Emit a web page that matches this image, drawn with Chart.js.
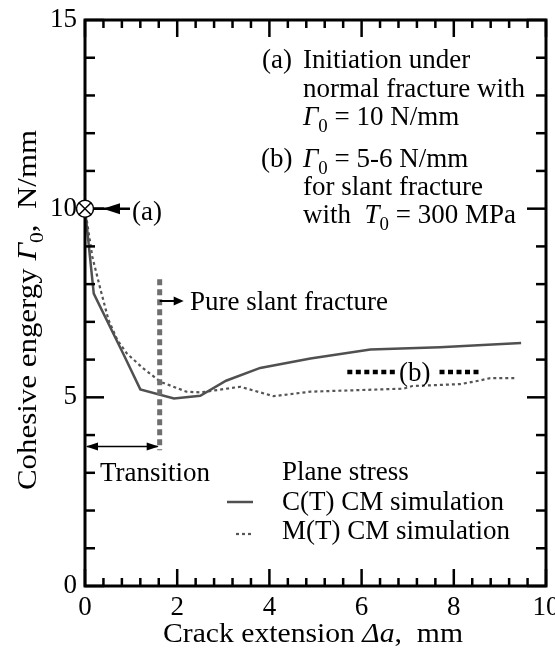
<!DOCTYPE html>
<html>
<head>
<meta charset="utf-8">
<script src="https://cdn.jsdelivr.net/npm/chart.js@4.4.1/dist/chart.umd.min.js"></script>
<style>
  body { margin: 0; background: #fff; }
</style>
</head>
<body>
<canvas id="myChart" width="555" height="654"></canvas>
<script>
// crack extension (mm) / cohesive energy (N/mm)
const ctX = [0, 0.19, 0.84, 1.2, 1.93, 2.5, 3.06, 3.8, 4.89, 6.19, 7.7, 9.46];
const ctY = [10, 7.75, 6.13, 5.21, 4.97, 5.04, 5.44, 5.78, 6.03, 6.27, 6.33, 6.44];
const mtX = [0, 0.16, 0.34, 0.51, 0.7, 0.91, 1.25, 1.64, 2.2, 2.5, 3.37, 4.09, 4.89, 6.91, 7.1, 8.14, 8.58, 8.79, 9.37];
const mtY = [10, 8.72, 7.84, 7.05, 6.52, 6.16, 5.78, 5.41, 5.15, 5.13, 5.28, 5.03, 5.15, 5.23, 5.3, 5.35, 5.45, 5.51, 5.51];
const xTicks = [0, 2, 4, 6, 8, 10];
const yTicks = [0, 5, 10, 15];

// annotation values (data units)
const initPoint = [0, 10];
const slantX = 1.62;
const slantRange = [3.6, 8.13];
const transitionY = 3.7;
const bLevel = 5.67;
const bDashes = [[5.69, 6.73], [7.69, 8.61]];

const serif = '"Liberation Serif", "Times New Roman", serif';

function toParts(p) { return typeof p === "string" ? [{ t: p }] : p; }
function measure(ctx, parts, size) {
  let w = 0;
  for (const p of toParts(parts)) {
    ctx.font = (p.it ? "italic " : "") + (p.sub ? size * 0.7 : size) + "px " + serif;
    w += ctx.measureText(p.t).width;
  }
  return w;
}
function txt(ctx, parts, x, y, size, sx) {
  ctx.save();
  ctx.translate(x, y);
  ctx.scale(sx || 1, 1);
  ctx.fillStyle = "#000";
  ctx.textBaseline = "alphabetic";
  ctx.textAlign = "left";
  let cx = 0;
  for (const p of toParts(parts)) {
    ctx.font = (p.it ? "italic " : "") + (p.sub ? size * 0.7 : size) + "px " + serif;
    ctx.fillText(p.t, cx, p.sub ? size * 0.25 : 0);
    cx += ctx.measureText(p.t).width;
  }
  ctx.restore();
}
function line(ctx, x1, y1, x2, y2) {
  ctx.beginPath(); ctx.moveTo(x1, y1); ctx.lineTo(x2, y2); ctx.stroke();
}
function head(ctx, x, y, dir, len, half) {
  ctx.beginPath();
  ctx.moveTo(x, y);
  ctx.lineTo(x - dir * len, y - half);
  ctx.lineTo(x - dir * len, y + half);
  ctx.closePath();
  ctx.fill();
}

const decor = {
  id: "decor",
  afterDatasetsDraw(chart) {
    const ctx = chart.ctx, a = chart.chartArea;
    const xs = chart.scales.x, ys = chart.scales.y;
    ctx.save();
    ctx.strokeStyle = "#000";
    ctx.fillStyle = "#000";
    ctx.setLineDash([]);

    // inside ticks on all sides
    ctx.lineWidth = 2.5;
    for (let i = 0; i <= 25; i++) {
      const px = xs.getPixelForValue(i * 0.4);
      const len = i % 5 === 0 ? 17 : 8;
      line(ctx, px, a.bottom, px, a.bottom - len);
      line(ctx, px, a.top, px, a.top + len);
    }
    for (let i = 0; i <= 15; i++) {
      const py = ys.getPixelForValue(i);
      const len = i % 5 === 0 ? 19 : 10;
      line(ctx, a.left, py, a.left + len, py);
      line(ctx, a.right, py, a.right - len, py);
    }
    ctx.lineWidth = 3;
    ctx.strokeRect(a.left, a.top, a.right - a.left, a.bottom - a.top);

    // pure slant boundary
    const sx = xs.getPixelForValue(slantX);
    ctx.strokeStyle = "#6e6e6e";
    ctx.lineWidth = 5;
    ctx.setLineDash([6, 4]);
    line(ctx, sx, ys.getPixelForValue(slantRange[1]), sx, ys.getPixelForValue(slantRange[0]));
    ctx.setLineDash([]);

    // transition arrow
    ctx.strokeStyle = "#000";
    ctx.lineWidth = 1.5;
    const ty = ys.getPixelForValue(transitionY);
    line(ctx, a.left + 2, ty, sx - 2, ty);
    head(ctx, a.left + 1, ty, -1, 12, 4);
    head(ctx, sx - 1, ty, 1, 12, 4);
    txt(ctx, "Transition", 100, 481, 27);

    // pure slant label
    const py = 301;
    ctx.lineWidth = 2;
    line(ctx, sx, py, sx + 16, py);
    head(ctx, sx + 24, py, 1, 10, 4.5);
    txt(ctx, "Pure slant fracture", 190, 310, 27);

    // (b) level
    ctx.lineWidth = 4.5;
    ctx.setLineDash([5, 3.5]);
    const by = ys.getPixelForValue(bLevel);
    for (const d of bDashes) {
      line(ctx, xs.getPixelForValue(d[0]), by, xs.getPixelForValue(d[1]), by);
    }
    ctx.setLineDash([]);
    txt(ctx, "(b)", 399, 381, 27);

    // initiation point
    const cx = xs.getPixelForValue(initPoint[0]), cy = ys.getPixelForValue(initPoint[1]);
    ctx.lineWidth = 2.5;
    line(ctx, cx + 8, cy, cx + 45, cy);
    head(ctx, cx + 18, cy, -1, 17, 5.5);
    ctx.fillStyle = "#fff";
    ctx.lineWidth = 1.5;
    ctx.beginPath(); ctx.arc(cx, cy, 8.5, 0, Math.PI * 2); ctx.fill(); ctx.stroke();
    const r = 8.5 * Math.SQRT1_2;
    line(ctx, cx - r, cy - r, cx + r, cy + r);
    line(ctx, cx - r, cy + r, cx + r, cy - r);
    ctx.fillStyle = "#000";
    txt(ctx, "(a)", 132, 220, 27);

    // notes top right
    const ns = 27, nx = 303;
    txt(ctx, "(a)", 262, 68, ns);
    txt(ctx, "Initiation under", nx, 68, ns);
    txt(ctx, "normal fracture with", nx, 97, ns);
    txt(ctx, [{ t: "\u0393", it: true }, { t: "0", sub: true }, { t: " = 10 N/mm" }], nx, 125, ns);
    txt(ctx, "(b)", 261, 167, ns);
    txt(ctx, [{ t: "\u0393", it: true }, { t: "0", sub: true }, { t: " = 5-6 N/mm" }], nx, 167, ns);
    txt(ctx, "for slant fracture", nx, 195, ns);
    txt(ctx, [{ t: "with  " }, { t: "T", it: true }, { t: "0", sub: true }, { t: " = 300 MPa" }], nx, 223, ns);

    // legend
    txt(ctx, "Plane stress", 282, 480, 27);
    const ds = chart.data.datasets;
    const rows = [[502, 510, 227], [534, 539, 236]];
    ds.forEach((d, i) => {
      ctx.strokeStyle = d.borderColor;
      ctx.lineWidth = d.borderWidth;
      ctx.setLineDash(d.borderDash || []);
      line(ctx, rows[i][2], rows[i][0], 253, rows[i][0]);
      ctx.setLineDash([]);
      txt(ctx, d.label, 282, rows[i][1], 27);
    });

    // axis titles
    const xt = [{ t: "Crack extension " }, { t: "\u0394a", it: true }, { t: ",  mm" }];
    const xw = measure(ctx, xt, 28);
    txt(ctx, xt, 163, 642, 28, 300 / xw);
    const yt = [{ t: "Cohesive engergy " }, { t: "\u0393", it: true }, { t: "0", sub: true }, { t: ",  N/mm" }];
    const yw = measure(ctx, yt, 28);
    ctx.save();
    ctx.translate(36, 490);
    ctx.rotate(-Math.PI / 2);
    txt(ctx, yt, 0, 0, 28, 360 / yw);
    ctx.restore();

    ctx.restore();
  }
};

const ctx = document.getElementById("myChart").getContext("2d");
const myChart = new Chart(ctx, {
  type: "line",
  data: {
    datasets: [
      {
        label: "C(T) CM simulation",
        data: ctX.map((x, i) => ({ x: x, y: ctY[i] })),
        borderColor: "#505050",
        borderWidth: 2.5,
        pointRadius: 0,
        tension: 0
      },
      {
        label: "M(T) CM simulation",
        data: mtX.map((x, i) => ({ x: x, y: mtY[i] })),
        borderColor: "#555555",
        borderWidth: 2.2,
        borderDash: [3, 3],
        pointRadius: 0,
        tension: 0
      }
    ]
  },
  options: {
    responsive: false,
    animation: false,
    devicePixelRatio: 1,
    layout: { padding: { top: 20, right: 9, left: 0, bottom: 0 } },
    plugins: { legend: { display: false }, tooltip: { enabled: false } },
    scales: {
      x: {
        type: "linear",
        min: 0,
        max: 10,
        afterBuildTicks: (s) => { s.ticks = xTicks.map((v) => ({ value: v })); },
        afterFit: (s) => { s.height = 68; s.paddingLeft = 0; s.paddingRight = 0; },
        grid: { display: false, drawTicks: false },
        border: { display: false },
        ticks: { color: "#000", padding: 6, font: { family: serif, size: 27 } }
      },
      y: {
        min: 0,
        max: 15,
        afterBuildTicks: (s) => { s.ticks = yTicks.map((v) => ({ value: v })); },
        afterFit: (s) => { s.width = 85; s.paddingTop = 0; s.paddingBottom = 0; },
        grid: { display: false, drawTicks: false },
        border: { display: false },
        ticks: { color: "#000", padding: 8, font: { family: serif, size: 27 } }
      }
    }
  },
  plugins: [decor]
});
</script>
</body>
</html>
